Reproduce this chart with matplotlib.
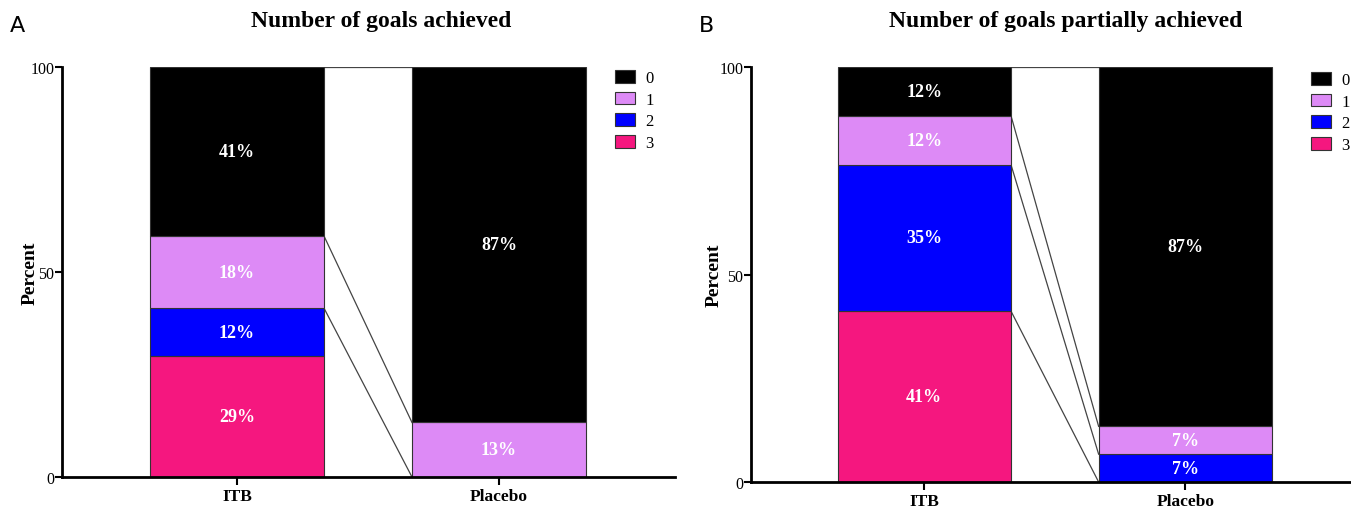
import matplotlib
matplotlib.use("Agg")
import matplotlib.pyplot as plt
import numpy as np

groups = ["ITB", "Placebo"]
categories = ["0", "1", "2", "3"]
colors = {"0": "#000000", "1": "#DD8AF6", "2": "#0000FF", "3": "#F5177F"}

# percent per group, category order 0..3 (NaN = no value)
achieved = {
    "ITB": [41.2, 17.6, 11.8, 29.4],
    "Placebo": [86.7, 13.3, 0.0, np.nan],
}
partial = {
    "ITB": [11.8, 11.8, 35.3, 41.2],
    "Placebo": [86.6, 6.7, 6.7, 0.0],
}
titles = ["Number of goals achieved", "Number of goals partially achieved"]
panel_tags = ["A", "B"]

plt.rcParams["font.family"] = ["Liberation Serif", "DejaVu Serif"]

fig = plt.figure(figsize=(13.51, 5.10), dpi=100)
ax_a = fig.add_axes([62 / 1351, 32 / 510, 613 / 1351, 410 / 510])
ax_b = fig.add_axes([751 / 1351, 27 / 510, 600 / 1351, 415 / 510])

bar_w = 0.664


def draw_panel(ax, data, xlim, legend_xy, ylab_x):
    x = np.arange(len(groups))
    tops = {}
    for gi, g in enumerate(groups):
        vals = data[g]
        bottom = 0.0
        tops[g] = []
        # stack from category 3 at the bottom up to 0 at the top
        for ci in range(len(categories) - 1, -1, -1):
            v = vals[ci]
            cat = categories[ci]
            if np.isnan(v):
                tops[g].append(np.nan)
                continue
            if v > 0:
                ax.bar(x[gi], v, bar_w, bottom=bottom, color=colors[cat],
                       edgecolor="#333333", linewidth=0.8, zorder=2)
                ax.text(x[gi], bottom + v / 2, f"{v:.0f}%", color="white",
                        ha="center", va="center", fontsize=13, fontweight="bold",
                        zorder=3)
            bottom += v
            tops[g].append(min(bottom, 100))
    # connector lines between segment tops
    for t0, t1 in zip(tops["ITB"], tops["Placebo"]):
        if np.isnan(t0) or np.isnan(t1):
            continue
        ax.plot([x[0] + bar_w / 2, x[1] - bar_w / 2], [t0, t1],
                color="#444444", linewidth=0.9, zorder=1)

    ax.set_xlim(*xlim)
    ax.set_ylim(0, 100)
    ax.set_yticks([0, 50, 100])
    ax.set_xticks(x)
    ax.set_xticklabels(groups, fontsize=12.5, fontweight="bold")
    ax.tick_params(axis="y", labelsize=11.5, width=1.5, length=5, pad=0.5)
    ax.tick_params(axis="x", width=1.5, length=6, pad=2)
    ax.set_ylabel("Percent", fontsize=14, fontweight="bold")
    ax.yaxis.set_label_coords(ylab_x, 0.5)
    for s in ["top", "right"]:
        ax.spines[s].set_visible(False)
    for s in ["left", "bottom"]:
        ax.spines[s].set_linewidth(2)
    ax.spines["left"].set_bounds(0, 100)

    handles = [plt.Rectangle((0, 0), 1, 1, facecolor=colors[c], edgecolor="#333333",
                             linewidth=0.8) for c in categories]
    fig.legend(handles, categories, loc="upper left",
               bbox_to_anchor=(legend_xy[0] / 1351, 1 - legend_xy[1] / 510),
               frameon=False, fontsize=12, handlelength=1.2, handleheight=0.8,
               labelspacing=0.33, handletextpad=0.6, borderpad=0, borderaxespad=0)


draw_panel(ax_a, achieved, (-0.668, 1.672), (615, 71), -0.038)
draw_panel(ax_b, partial, (-0.664, 1.635), (1311, 73), -0.047)

fig.text(381 / 1351, 1 - 22 / 510, titles[0], ha="center", va="center",
         fontsize=17, fontweight="bold")
fig.text(1066 / 1351, 1 - 22 / 510, titles[1], ha="center", va="center",
         fontsize=17, fontweight="bold")
fig.text(10 / 1351, 1 - 26 / 510, panel_tags[0], ha="left", va="center",
         fontsize=16, family="DejaVu Sans")
fig.text(699 / 1351, 1 - 26 / 510, panel_tags[1], ha="left", va="center",
         fontsize=16, family="DejaVu Sans")

fig.savefig("out.png", dpi=100)
